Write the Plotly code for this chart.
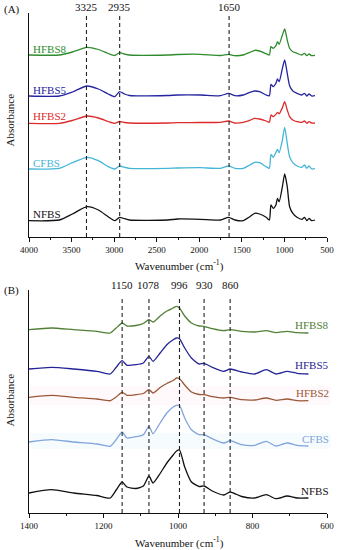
import plotly.graph_objects as go

# ---------------- Data ----------------
series_names = ["NFBS", "CFBS", "HFBS2", "HFBS5", "HFBS8"]

# Panel (A): full-range FTIR spectra (stacked absorbance, arbitrary units)
wn_a = [4000, 3644, 3491, 3319, 3185, 3070, 2994, 2936, 2879, 2820, 2370, 2256, 1988,
        1751, 1656, 1580, 1485, 1406, 1349, 1292, 1215, 1177, 1158, 1132, 1100, 1082,
        1062, 1024, 997, 967, 939, 901, 852, 795, 764, 737, 711, 680, 641]
nfbs_a = [16.3, 17, 23, 30.3, 27, 20.3, 16.3, 19.7, 18.3, 17, 17, 18, 17.7,
          17, 19.7, 17, 16.3, 20.3, 23.7, 23, 19.7, 17, 32, 28.7, 32, 38.7,
          35.3, 50.3, 63, 50.3, 30.3, 23.7, 19.7, 17.7, 19.7, 16.3, 18.7, 16.3, 17]
cfbs_a = [68, 68.7, 74.3, 79.7, 76.3, 70.3, 68, 71, 69.7, 68.7, 68.7, 69, 69.3,
          68.7, 71, 68.7, 68.7, 72, 74.7, 74.3, 70.3, 68.7, 82.7, 79.7, 84.7, 87.7,
          84.3, 97, 109.7, 93.7, 80.3, 74.3, 71, 69.7, 72, 68.7, 71, 68, 68.3]
hfbs2_a = [113.7, 113.7, 116.5, 121, 119, 115.5, 113.7, 115.5, 114.5, 114, 114, 114.3, 114.5,
           114.7, 116, 114, 114.7, 116.7, 118.7, 118, 116, 114.7, 122, 120.3, 122.7, 124.7,
           123.3, 129.3, 135.3, 127, 120.3, 117, 115.3, 114.7, 116, 113.7, 115.3, 114, 114]
hfbs5_a = [141, 141, 145, 151, 148, 143, 140.3, 145.3, 143, 141.5, 141.5, 142, 142,
           141.3, 143.7, 141.3, 142, 144.7, 146, 145.3, 142, 141.3, 152.7, 150.3, 153.7, 158,
           155.3, 168.7, 177, 163.7, 151.3, 146, 143.7, 142, 143.7, 141, 143, 141, 141.3]
hfbs8_a = [182, 182, 185, 189.7, 187.5, 183.5, 181.5, 184.3, 183, 182, 182, 182.5, 182.7,
           181.5, 182.7, 181.3, 182, 184.7, 186.7, 186, 183.3, 182, 190.3, 188.7, 191.3, 195.3,
           192.7, 202, 208, 197, 188.7, 185.3, 183.7, 182, 183.7, 181.3, 183, 181.3, 181.7]
peaks_a = [3325, 2935, 1650]
xticks_a = [4000, 3500, 3000, 2500, 2000, 1500, 1000, 500]

# Panel (B): fingerprint region
wn_b = [1400, 1340, 1280, 1218, 1182, 1166, 1150, 1137, 1113, 1093, 1078, 1067, 1048,
        1030, 1013, 1004, 996, 982, 964, 943, 930, 908, 877, 860, 829, 794, 763, 737,
        707, 680, 650]
nfbs_b = [20, 23.3, 20, 17.5, 15, 23, 31, 26, 24.5, 27, 37, 30, 39.5,
          50, 58, 62, 63, 46, 31, 26.5, 27, 22, 18, 21, 16.5, 15, 18.3, 14.3,
          17, 15, 15]
cfbs_b = [71, 73.3, 71, 69, 66.7, 73.3, 81, 75, 76.3, 78.3, 86.7, 79.3, 90,
          100, 106, 107.7, 107.5, 95, 83.3, 78.3, 78.3, 74.3, 70, 72.3, 68.3, 67.7, 71.7, 67,
          70, 67.7, 67]
hfbs2_b = [115.7, 117.7, 115.7, 114, 112.3, 116, 120.7, 117.7, 118.3, 119.5, 123.3, 120, 125.5,
           129.5, 132.5, 135, 134.3, 128, 121, 118.5, 118.3, 116.3, 115, 115.7, 113.3, 113, 115, 112.7,
           114, 112.3, 112.3]
hfbs5_b = [144, 145.7, 144, 141.7, 139, 145.7, 152.3, 147.7, 148.3, 150, 156.7, 151.7, 160,
           168.3, 173.3, 175, 174.3, 165, 155, 149, 149.7, 145.7, 141.7, 144, 141, 139, 143.3, 139,
           141.7, 139.7, 139]
hfbs8_b = [183.3, 185, 183.3, 181.7, 180, 185, 190, 187, 187.5, 189.5, 193.3, 191, 197,
           202, 205, 206.7, 205, 197, 190, 187, 186.7, 184.3, 182.3, 183.3, 181.7, 181, 182.3, 180.3,
           181.7, 180.3, 180]
peaks_b = [1150, 1078, 996, 930, 860]
xticks_b = [1400, 1200, 1000, 800, 600]

# ---------------- Styling ----------------
colors_a = {"NFBS": "#111111", "CFBS": "#45b5d6", "HFBS2": "#dd2a2a",
            "HFBS5": "#2424a0", "HFBS8": "#2e8c2e"}
colors_b = {"NFBS": "#111111", "CFBS": "#80a4dc", "HFBS2": "#9a5838",
            "HFBS5": "#242496", "HFBS8": "#4f8035"}
FONT = "Liberation Serif, Times New Roman, serif"

W, H = 342, 550
ML, MR, MT, MB = 29, 8, 13, 37
PW, PH = W - ML - MR, H - MT - MB


def pyp(py):
    return 1 - (py - MT) / PH


def pxp(px):
    return (px - ML) / PW


fig = go.Figure()

data_a = [nfbs_a, cfbs_a, hfbs2_a, hfbs5_a, hfbs8_a]
data_b = [nfbs_b, cfbs_b, hfbs2_b, hfbs5_b, hfbs8_b]

for name, ys in zip(series_names, data_a):
    fig.add_trace(go.Scatter(x=wn_a, y=ys, mode="lines", name=name,
                             line=dict(color=colors_a[name], width=1.3, shape="spline", smoothing=0.6),
                             xaxis="x", yaxis="y", showlegend=False, hoverinfo="skip"))
for name, ys in zip(series_names, data_b):
    fig.add_trace(go.Scatter(x=wn_b, y=ys, mode="lines", name=name,
                             line=dict(color=colors_b[name], width=1.3, shape="spline", smoothing=0.6),
                             xaxis="x2", yaxis="y2", showlegend=False, hoverinfo="skip"))

shapes = []
annotations = []

# faint highlight bands in panel B
shapes.append(dict(type="rect", xref="paper", yref="paper", x0=pxp(30), x1=pxp(338),
                   y0=pyp(405), y1=pyp(386), fillcolor="rgba(255,205,220,0.12)", line=dict(width=0),
                   layer="below"))
shapes.append(dict(type="rect", xref="paper", yref="paper", x0=pxp(30), x1=pxp(338),
                   y0=pyp(449), y1=pyp(433), fillcolor="rgba(205,240,250,0.18)", line=dict(width=0),
                   layer="below"))

# dashed peak markers
for p in peaks_a:
    shapes.append(dict(type="line", xref="x", yref="y", x0=p, x1=p, y0=0, y1=222,
                       line=dict(color="#222222", width=1.1, dash="4px,3px")))
    annotations.append(dict(x=p, xref="x", y=pyp(7), yref="paper", text=str(p), showarrow=False,
                            font=dict(family=FONT, size=11, color="#111"), yanchor="middle"))
for p in peaks_b:
    shapes.append(dict(type="line", xref="x2", yref="y2", x0=p, x1=p, y0=0, y1=216,
                       line=dict(color="#222222", width=1.1, dash="4px,3px")))
    annotations.append(dict(x=p, xref="x2", y=pyp(285), yref="paper", text=str(p), showarrow=False,
                            font=dict(family=FONT, size=11, color="#111"), yanchor="middle"))

# series labels
label_y_a = {"HFBS8": 49, "HFBS5": 90, "HFBS2": 116.5, "CFBS": 163, "NFBS": 213.5}
for name, py in label_y_a.items():
    annotations.append(dict(x=pxp(31), xref="paper", y=pyp(py), yref="paper", text=name,
                            showarrow=False, xanchor="left", yanchor="middle",
                            font=dict(family=FONT, size=11, color=colors_a[name])))
label_y_b = {"HFBS8": 325, "HFBS5": 365, "HFBS2": 392.5, "CFBS": 439, "NFBS": 490.5}
for name, py in label_y_b.items():
    annotations.append(dict(x=pxp(338), xref="paper", y=pyp(py), yref="paper", text=name,
                            showarrow=False, xanchor="right", yanchor="middle",
                            font=dict(family=FONT, size=11, color=colors_b[name])))

# panel letters, axis titles
annotations.append(dict(x=pxp(1), xref="paper", y=pyp(10), yref="paper", text="(A)", showarrow=False,
                        xanchor="left", yanchor="middle", font=dict(family=FONT, size=11, color="#111")))
annotations.append(dict(x=pxp(1), xref="paper", y=pyp(290), yref="paper", text="(B)", showarrow=False,
                        xanchor="left", yanchor="middle", font=dict(family=FONT, size=11, color="#111")))
for py in (265, 542):
    annotations.append(dict(x=pxp(183), xref="paper", y=pyp(py), yref="paper",
                            text="Wavenumber (cm<sup>-1</sup>)", showarrow=False,
                            xanchor="center", yanchor="middle",
                            font=dict(family=FONT, size=11, color="#111")))
for py in (120, 400):
    annotations.append(dict(x=pxp(10), xref="paper", y=pyp(py), yref="paper", text="Absorbance",
                            showarrow=False, textangle=-90, xanchor="center", yanchor="middle",
                            font=dict(family=FONT, size=11, color="#111")))

xcommon = dict(showline=True, linecolor="#111", linewidth=1, ticks="outside", ticklen=4,
               tickcolor="#111", tickwidth=1, showgrid=False, zeroline=False,
               tickfont=dict(family=FONT, size=9, color="#111"))
ycommon = dict(showline=True, linecolor="#111", linewidth=1, ticks="", showticklabels=False,
               showgrid=False, zeroline=False)

fig.update_layout(
    width=W, height=H, margin=dict(l=ML, r=MR, t=MT, b=MB),
    paper_bgcolor="white", plot_bgcolor="white",
    font=dict(family=FONT, color="#111"),
    xaxis=dict(**xcommon, range=[4000, 500], tickvals=xticks_a, anchor="y",
               minor=dict(dtick=250, tick0=0, ticks="outside", ticklen=2, tickcolor="#111")),
    yaxis=dict(**ycommon, range=[0, 224], domain=[0.552, 1.0], anchor="x"),
    xaxis2=dict(**xcommon, range=[1400, 600], tickvals=xticks_b, anchor="y2",
                minor=dict(dtick=100, tick0=0, ticks="outside", ticklen=2, tickcolor="#111")),
    yaxis2=dict(**ycommon, range=[0, 223], domain=[0.0, 0.446], anchor="x2"),
    shapes=shapes, annotations=annotations,
)

fig.write_html("out.html", config={"displayModeBar": False},
               post_script="document.body.style.margin='0';document.body.style.overflow='hidden';")
